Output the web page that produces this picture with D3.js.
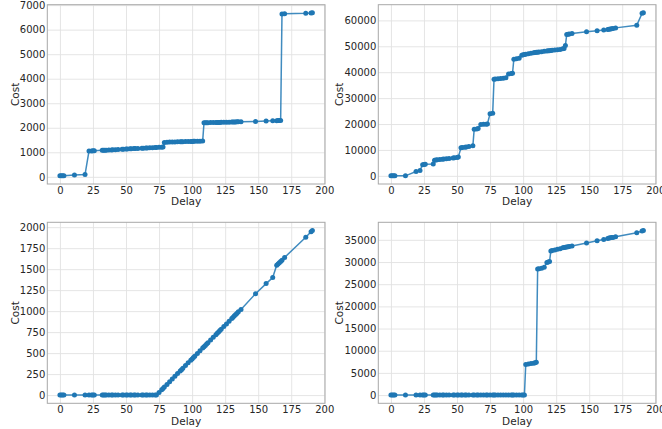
<!DOCTYPE html>
<html>
<head>
<meta charset="utf-8">
<script src="https://cdn.jsdelivr.net/npm/d3@7"></script>
<style>
  body { margin: 0; background: #fff; }
  svg { display: block; font-family: "DejaVu Sans", sans-serif; }
</style>
</head>
<body>
<svg></svg>
<script>

// shared x values (Delay)
let delays = [0, 1, 2, 3, 11, 19, 22, 24, 25, 26,
    32, 33, 34, 35, 37, 39, 40, 42, 44, 47,
    48, 50, 51, 53, 54, 56, 57, 59, 62, 63,
    65, 66, 68, 70, 72, 73, 75, 77, 78, 79,
    81, 83, 85, 87, 89, 91, 92, 93, 95, 97,
    99, 100, 101, 102, 104, 106, 108, 109, 110, 111,
    112, 114, 116, 118, 119, 120, 121, 122, 124, 126,
    128, 130, 131, 132, 133, 134, 135, 137, 148, 156,
    161, 164, 165, 166, 167, 168, 170, 186, 190, 191];

// top left
let costA = [40, 40, 40, 45, 70, 90, 1050, 1055, 1060, 1060,
    1080, 1082, 1085, 1088, 1092, 1095, 1100, 1105, 1110, 1120,
    1125, 1130, 1135, 1140, 1145, 1150, 1155, 1160, 1165, 1170,
    1175, 1180, 1185, 1190, 1195, 1200, 1205, 1210, 1215, 1400,
    1410, 1415, 1420, 1425, 1428, 1430, 1432, 1435, 1438, 1440,
    1442, 1445, 1447, 1448, 1450, 1455, 1460, 2200, 2205, 2205,
    2208, 2210, 2212, 2215, 2216, 2218, 2220, 2222, 2225, 2228,
    2230, 2232, 2235, 2238, 2240, 2242, 2245, 2248, 2260, 2275,
    2285, 2290, 2295, 2295, 2300, 6640, 6650, 6670, 6680, 6685];

// top right
let costB = [0, 0, 0, 0, 0, 1700, 2100, 4300, 4400, 4450,
    4600, 6000, 6100, 6200, 6300, 6400, 6500, 6600, 6700, 6900,
    7000, 7100, 7300, 10800, 10900, 11000, 11100, 11300, 11600, 18000,
    18100, 18300, 19800, 19900, 19950, 20000, 24000, 24200, 37300, 37400,
    37500, 37600, 37700, 37900, 39300, 39500, 39600, 45000, 45200, 45400,
    46500, 46700, 46800, 46900, 47100, 47300, 47500, 47600, 47700, 47700,
    47800, 47900, 48100, 48200, 48300, 48300, 48400, 48500, 48600, 48700,
    48800, 49000, 49100, 50300, 54500, 54600, 54700, 54900, 55600, 56000,
    56300, 56500, 56600, 56700, 56800, 56900, 57100, 58100, 62700, 62900];

// bottom left
let costC = [0, 0, 0, 0, 0, 0, 0, 0, 0, 0,
    0, 0, 0, 0, 0, 0, 0, 0, 0, 0,
    0, 0, 0, 0, 0, 0, 0, 0, 0, 0,
    0, 0, 0, 0, 0, 0, 31, 63, 79, 95,
    127, 160, 191, 223, 256, 288, 303, 319, 352, 384,
    416, 431, 447, 463, 496, 527, 560, 575, 591, 607,
    623, 656, 688, 720, 736, 752, 768, 784, 816, 848,
    880, 912, 928, 944, 960, 976, 992, 1020, 1208, 1328,
    1400, 1547, 1560, 1575, 1590, 1605, 1640, 1880, 1945, 1960];

// bottom right
let costD = [0, 0, 0, 0, 0, 0, 0, 0, 0, 0,
    0, 0, 0, 0, 0, 0, 0, 0, 0, 0,
    0, 0, 0, 0, 0, 0, 0, 0, 0, 0,
    0, 0, 0, 0, 0, 0, 0, 0, 0, 0,
    0, 0, 0, 0, 0, 0, 0, 0, 0, 0,
    0, 0, 0, 6900, 7000, 7100, 7200, 7300, 7400, 28400,
    28500, 28600, 28800, 29900, 30000, 30100, 32500, 32600, 32700, 32900,
    33000, 33200, 33300, 33350, 33400, 33450, 33500, 33600, 34300, 34800,
    35100, 35300, 35400, 35450, 35500, 35550, 35700, 36600, 37000, 37100];

let xTicks = [0, 25, 50, 75, 100, 125, 150, 175, 200];
let ticksA = [0, 1000, 2000, 3000, 4000, 5000, 6000, 7000];
let ticksB = [0, 10000, 20000, 30000, 40000, 50000, 60000];
let ticksC = [0, 250, 500, 750, 1000, 1250, 1500, 1750, 2000];
let ticksD = [0, 5000, 10000, 15000, 20000, 25000, 30000, 35000];

let svgWidth = 662, svgHeight = 429;
let svg = d3.select('svg')
            .attr('width', svgWidth)
            .attr('height', svgHeight);

let blue = '#1f77b4', textColor = '#262626';
let w = 277.7;
let fmt = d3.format('d');

let panels = [
    {cost: costA, ticks: ticksA, left: 47.3, top: 4.7, h: 179.3, labX: -32},
    {cost: costB, ticks: ticksB, left: 378.3, top: 4.7, h: 179.3, labX: -39},
    {cost: costC, ticks: ticksC, left: 47.3, top: 222.3, h: 181, labX: -32},
    {cost: costD, ticks: ticksD, left: 378.3, top: 222.3, h: 181, labX: -39}
];

panels.forEach(p => {
    let g = svg.append('g')
               .attr('transform', 'translate(' + p.left + ',' + p.top + ')');

    // matplotlib style 5% margins
    let xmin = d3.min(delays), xmax = d3.max(delays);
    let xpad = (xmax - xmin) * 0.05;
    let x = d3.scaleLinear().domain([xmin - xpad, xmax + xpad]).range([0, w]);
    let ymin = d3.min(p.cost), ymax = d3.max(p.cost);
    let ypad = (ymax - ymin) * 0.05;
    let y = d3.scaleLinear().domain([ymin - ypad, ymax + ypad]).range([p.h, 0]);

    // grid
    let gx = g.append('g')
        .attr('transform', 'translate(0,' + p.h + ')')
        .call(d3.axisBottom(x).tickValues(xTicks).tickSize(-p.h).tickFormat(''));
    let gy = g.append('g')
        .call(d3.axisLeft(y).tickValues(p.ticks).tickSize(-w).tickFormat(''));
    [gx, gy].forEach(a => {
        a.select('.domain').remove();
        a.selectAll('line').attr('stroke', '#e2e2e2').attr('stroke-width', 0.9);
    });

    // tick labels
    let lx = g.append('g')
        .attr('transform', 'translate(0,' + p.h + ')')
        .call(d3.axisBottom(x).tickValues(xTicks).tickSize(0).tickPadding(3).tickFormat(fmt));
    let ly = g.append('g')
        .call(d3.axisLeft(y).tickValues(p.ticks).tickSize(0).tickPadding(2).tickFormat(fmt));
    [lx, ly].forEach(a => {
        a.select('.domain').remove();
        a.selectAll('text')
         .attr('fill', textColor)
         .style('font-size', '10px')
         .style('font-family', '"DejaVu Sans", sans-serif');
    });

    // spines
    g.append('rect')
     .attr('width', w)
     .attr('height', p.h)
     .attr('fill', 'none')
     .attr('stroke', '#a8a8a8')
     .attr('stroke-width', 1);

    let pts = delays.map((d, i) => [d, p.cost[i]]);

    g.append('path')
     .datum(pts)
     .attr('fill', 'none')
     .attr('stroke', blue)
     .attr('stroke-width', 1.5)
     .attr('opacity', 0.85)
     .attr('d', d3.line().x(d => x(d[0])).y(d => y(d[1])));

    g.selectAll('circle')
     .data(pts)
     .enter()
     .append('circle')
     .attr('cx', d => x(d[0]))
     .attr('cy', d => y(d[1]))
     .attr('r', 2.5)
     .attr('fill', blue);

    // axis labels
    g.append('text')
     .attr('x', w / 2)
     .attr('y', p.h + 17.5)
     .attr('text-anchor', 'middle')
     .attr('dominant-baseline', 'central')
     .attr('fill', textColor)
     .style('font-size', '10.5px')
     .text('Delay');

    g.append('text')
     .attr('transform', 'translate(' + p.labX + ',' + (p.h / 2) + ') rotate(-90)')
     .attr('text-anchor', 'middle')
     .attr('dominant-baseline', 'central')
     .attr('fill', textColor)
     .style('font-size', '10.5px')
     .text('Cost');
});
</script>
</body>
</html>
